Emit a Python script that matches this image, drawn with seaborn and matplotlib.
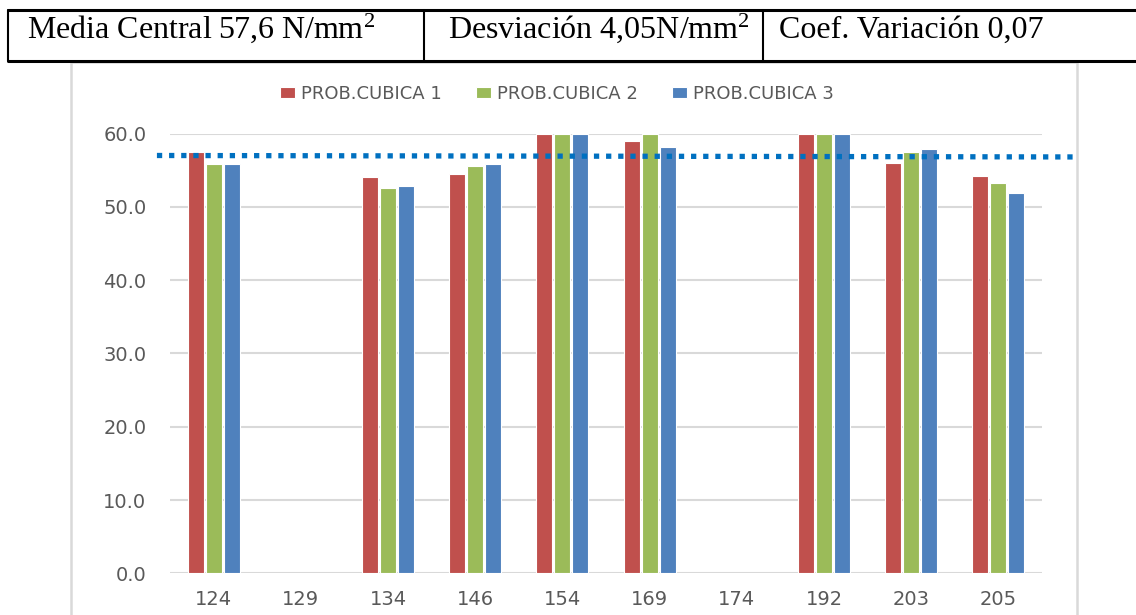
import numpy as np
import pandas as pd
import matplotlib
matplotlib.use("Agg")
import matplotlib.pyplot as plt
import seaborn as sns
from matplotlib.lines import Line2D
from matplotlib.patches import Rectangle
import matplotlib.transforms as mtransforms

#--------------------------------------- DATA ---------------------------------------#
probetas = ["124", "129", "134", "146", "154", "169", "174", "192", "203", "205"]
series = ["PROB.CUBICA 1", "PROB.CUBICA 2", "PROB.CUBICA 3"]
cubica_1 = [57.5, np.nan, 54.0, 54.5, 60.0, 59.0, np.nan, 60.0, 56.0, 54.2]
cubica_2 = [55.8, np.nan, 52.5, 55.5, 60.0, 60.0, np.nan, 60.0, 57.5, 53.3]
cubica_3 = [55.9, np.nan, 52.9, 55.9, 60.0, 58.1, np.nan, 60.0, 57.9, 51.9]
media_line = [57.0, 56.8]  # dotted line drawn over the chart (start, end)
yticks = [0, 10, 20, 30, 40, 50, 60]
header = ["Media Central 57,6 N/mm$^2$", "Desviaci\u00f3n 4,05N/mm$^2$", "Coef. Variaci\u00f3n 0,07"]

#--------------------------------------- STYLE ---------------------------------------#
clr = ["#C0504D", "#9BBB59", "#4F81BD"]
TXT = "#595959"
GRID = "#D9D9D9"
W, H = 1136, 615

df = pd.DataFrame({
    "probeta": probetas * 3,
    "serie": [s for s in series for _ in probetas],
    "valor": cubica_1 + cubica_2 + cubica_3,
})

sns.set_style("white")
plt.rcParams["font.family"] = ["DejaVu Sans"]
plt.rcParams["mathtext.fontset"] = "custom"
plt.rcParams["mathtext.rm"] = "Liberation Serif"
plt.rcParams["mathtext.default"] = "rm"

fig = plt.figure(figsize=(W / 100, H / 100), dpi=100)
ax = fig.add_axes([170 / W, 1 - 573.3 / H, 872 / W, 439.8 / H])

sns.barplot(data=df, x="probeta", y="valor", hue="serie", order=probetas,
            hue_order=series, palette=clr, width=0.62, gap=0.12,
            edgecolor="white", linewidth=0.8, saturation=1, ax=ax)

ax.set_ylim(0, 60)
ax.set_xlim(-0.5, len(probetas) - 0.5)
ax.set_yticks(yticks)
ax.set_yticklabels(["%.1f" % v for v in yticks])
ax.yaxis.grid(True, color=GRID, linewidth=1.5, zorder=0)
ax.set_axisbelow(True)
for s in ax.spines.values():
    s.set_visible(False)
ax.tick_params(axis="y", length=0, pad=17, labelsize=14, labelcolor=TXT)
ax.tick_params(axis="x", length=0, pad=12, labelsize=14, labelcolor=TXT)
ax.set_xlabel("")
ax.set_ylabel("")

# dotted mean line (extends slightly past the plot area)
trans = mtransforms.blended_transform_factory(ax.transAxes, ax.transData)
ax.plot([-0.015, 1.041], media_line, transform=trans, color="#0070C0",
        linewidth=3.8, linestyle=(0, (1, 1.3)), clip_on=False, zorder=5)

# legend on top
handles, labels = ax.get_legend_handles_labels()
ax.get_legend().remove()
fig.legend(handles, labels, loc="center", bbox_to_anchor=(557 / W, 1 - 94 / H),
           ncol=3, frameon=False, fontsize=13, labelcolor=TXT,
           handlelength=0.8, handleheight=0.5, handletextpad=0.35, columnspacing=1.9)

# chart frame
fig.add_artist(Rectangle((71 / W, -0.05), 1006 / W, 0.05 + 1 - 62 / H,
                         transform=fig.transFigure, fill=False,
                         edgecolor=GRID, linewidth=1.8))

# table header
ytop, ybot = 1 - 10 / H, 1 - 61 / H
fig.add_artist(Line2D([8 / W, 1], [ytop, ytop], color="black", linewidth=2.2))
fig.add_artist(Line2D([8 / W, 1], [ybot, ybot], color="black", linewidth=2.2))
for xv in [8, 424, 763]:
    fig.add_artist(Line2D([xv / W, xv / W], [ytop, ybot], color="black", linewidth=1.5))
for xt, txt in zip([27, 448, 779], header):
    fig.text(xt / W, 1 - 38 / H, txt, ha="left", va="baseline",
             family=["Liberation Serif", "DejaVu Serif"], fontsize=23, color="black")

fig.savefig("out.png", dpi=100)
